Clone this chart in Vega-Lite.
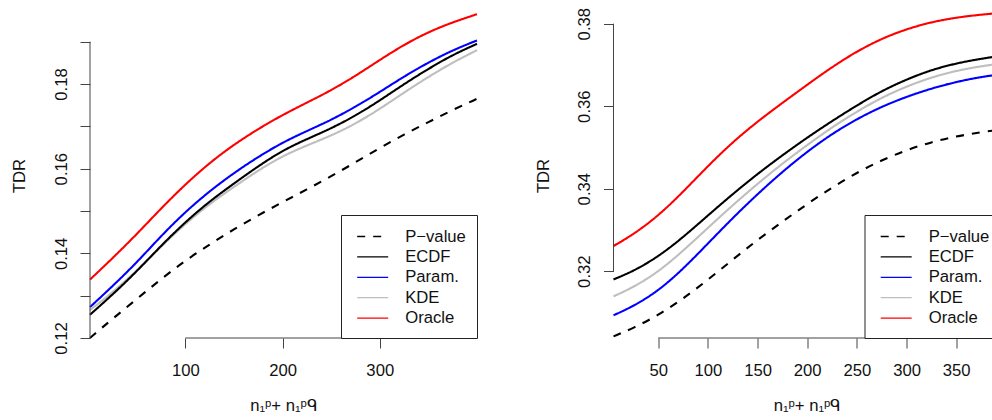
{
  "$schema": "https://vega.github.io/schema/vega-lite/v6.json",
  "background": "white",
  "autosize": {"type": "pad"},
  "padding": {"left": 11, "top": 7, "right": 0, "bottom": 0},
  "bounds": "flush",
  "spacing": 136.5,
  "config": {
    "font": "Liberation Sans",
    "view": {"stroke": null},
    "axis": {
      "domain": false, "grid": false, "tickSize": 10, "tickColor": "#444", "tickWidth": 1,
      "labelFont": "Liberation Sans", "labelFontSize": 16.67, "labelColor": "#111",
      "titleFont": "Liberation Sans", "titleFontSize": 16.67, "titleFontWeight": "normal", "titleColor": "#111",
      "labelFlush": false, "labelOverlap": false
    },
    "axisX": {"labelAngle": 0, "labelAlign": "center", "labelBaseline": "alphabetic", "labelPadding": 27.5,
      "titleX": 193.5, "titleY": 72.5, "titleAlign": "center", "titleBaseline": "alphabetic", "titleAngle": 0},
    "axisY": {"labelAngle": -90, "labelAlign": "center", "labelBaseline": "alphabetic", "labelPadding": 14,
      "titleX": -65.5, "titleY": 162.5, "titleAngle": -90, "titleAlign": "center", "titleBaseline": "alphabetic"},
    "legend": {
      "labelFont": "Liberation Sans", "labelFontSize": 16.67, "labelColor": "#111", "labelLimit": 200
    }
  },
  "datasets": {
    "L": [
      {"m": "Oracle", "n": 2, "t": 0.1338}, {"m": "Oracle", "n": 25, "t": 0.1388}, {"m": "Oracle", "n": 50, "t": 0.1445}, {"m": "Oracle", "n": 75, "t": 0.1506}, {"m": "Oracle", "n": 100, "t": 0.1563}, {"m": "Oracle", "n": 125, "t": 0.1614}, {"m": "Oracle", "n": 150, "t": 0.1657}, {"m": "Oracle", "n": 175, "t": 0.1694}, {"m": "Oracle", "n": 200, "t": 0.1727}, {"m": "Oracle", "n": 225, "t": 0.1756}, {"m": "Oracle", "n": 250, "t": 0.1785}, {"m": "Oracle", "n": 275, "t": 0.1819}, {"m": "Oracle", "n": 300, "t": 0.1857}, {"m": "Oracle", "n": 325, "t": 0.1893}, {"m": "Oracle", "n": 350, "t": 0.1923}, {"m": "Oracle", "n": 375, "t": 0.1946}, {"m": "Oracle", "n": 400, "t": 0.1965},
      {"m": "Param.", "n": 2, "t": 0.1273}, {"m": "Param.", "n": 25, "t": 0.1322}, {"m": "Param.", "n": 50, "t": 0.1378}, {"m": "Param.", "n": 75, "t": 0.1441}, {"m": "Param.", "n": 100, "t": 0.1498}, {"m": "Param.", "n": 125, "t": 0.1547}, {"m": "Param.", "n": 150, "t": 0.1590}, {"m": "Param.", "n": 175, "t": 0.1628}, {"m": "Param.", "n": 200, "t": 0.1662}, {"m": "Param.", "n": 225, "t": 0.1689}, {"m": "Param.", "n": 250, "t": 0.1715}, {"m": "Param.", "n": 275, "t": 0.1746}, {"m": "Param.", "n": 300, "t": 0.1781}, {"m": "Param.", "n": 325, "t": 0.1818}, {"m": "Param.", "n": 350, "t": 0.1851}, {"m": "Param.", "n": 375, "t": 0.1880}, {"m": "Param.", "n": 400, "t": 0.1903},
      {"m": "KDE", "n": 2, "t": 0.1266}, {"m": "KDE", "n": 25, "t": 0.1307}, {"m": "KDE", "n": 50, "t": 0.1359}, {"m": "KDE", "n": 75, "t": 0.1416}, {"m": "KDE", "n": 100, "t": 0.1470}, {"m": "KDE", "n": 125, "t": 0.1517}, {"m": "KDE", "n": 150, "t": 0.1557}, {"m": "KDE", "n": 175, "t": 0.1596}, {"m": "KDE", "n": 200, "t": 0.1630}, {"m": "KDE", "n": 225, "t": 0.1655}, {"m": "KDE", "n": 250, "t": 0.1678}, {"m": "KDE", "n": 275, "t": 0.1706}, {"m": "KDE", "n": 300, "t": 0.1741}, {"m": "KDE", "n": 325, "t": 0.1780}, {"m": "KDE", "n": 350, "t": 0.1817}, {"m": "KDE", "n": 375, "t": 0.1851}, {"m": "KDE", "n": 400, "t": 0.1880},
      {"m": "ECDF", "n": 2, "t": 0.1255}, {"m": "ECDF", "n": 25, "t": 0.1302}, {"m": "ECDF", "n": 50, "t": 0.1357}, {"m": "ECDF", "n": 75, "t": 0.1418}, {"m": "ECDF", "n": 100, "t": 0.1474}, {"m": "ECDF", "n": 125, "t": 0.1523}, {"m": "ECDF", "n": 150, "t": 0.1565}, {"m": "ECDF", "n": 175, "t": 0.1606}, {"m": "ECDF", "n": 200, "t": 0.1643}, {"m": "ECDF", "n": 225, "t": 0.1670}, {"m": "ECDF", "n": 250, "t": 0.1695}, {"m": "ECDF", "n": 275, "t": 0.1725}, {"m": "ECDF", "n": 300, "t": 0.1761}, {"m": "ECDF", "n": 325, "t": 0.1800}, {"m": "ECDF", "n": 350, "t": 0.1836}, {"m": "ECDF", "n": 375, "t": 0.1869}, {"m": "ECDF", "n": 400, "t": 0.1895},
      {"m": "P\u2212value", "n": 2, "t": 0.1200}, {"m": "P\u2212value", "n": 25, "t": 0.1245}, {"m": "P\u2212value", "n": 50, "t": 0.1292}, {"m": "P\u2212value", "n": 75, "t": 0.1339}, {"m": "P\u2212value", "n": 100, "t": 0.1383}, {"m": "P\u2212value", "n": 125, "t": 0.1421}, {"m": "P\u2212value", "n": 150, "t": 0.1457}, {"m": "P\u2212value", "n": 175, "t": 0.1490}, {"m": "P\u2212value", "n": 200, "t": 0.1521}, {"m": "P\u2212value", "n": 225, "t": 0.1551}, {"m": "P\u2212value", "n": 250, "t": 0.1582}, {"m": "P\u2212value", "n": 275, "t": 0.1615}, {"m": "P\u2212value", "n": 300, "t": 0.1649}, {"m": "P\u2212value", "n": 325, "t": 0.1681}, {"m": "P\u2212value", "n": 350, "t": 0.1710}, {"m": "P\u2212value", "n": 375, "t": 0.1739}, {"m": "P\u2212value", "n": 400, "t": 0.1765}
    ],
    "R": [
      {"m": "Oracle", "n": 5, "t": 0.3261}, {"m": "Oracle", "n": 25, "t": 0.3289}, {"m": "Oracle", "n": 50, "t": 0.3334}, {"m": "Oracle", "n": 75, "t": 0.3392}, {"m": "Oracle", "n": 100, "t": 0.3455}, {"m": "Oracle", "n": 125, "t": 0.3513}, {"m": "Oracle", "n": 150, "t": 0.3563}, {"m": "Oracle", "n": 175, "t": 0.3608}, {"m": "Oracle", "n": 200, "t": 0.3652}, {"m": "Oracle", "n": 225, "t": 0.3695}, {"m": "Oracle", "n": 250, "t": 0.3733}, {"m": "Oracle", "n": 275, "t": 0.3764}, {"m": "Oracle", "n": 300, "t": 0.3787}, {"m": "Oracle", "n": 325, "t": 0.3804}, {"m": "Oracle", "n": 350, "t": 0.3815}, {"m": "Oracle", "n": 375, "t": 0.3822}, {"m": "Oracle", "n": 394, "t": 0.3826},
      {"m": "Param.", "n": 5, "t": 0.3093}, {"m": "Param.", "n": 25, "t": 0.3115}, {"m": "Param.", "n": 50, "t": 0.3152}, {"m": "Param.", "n": 75, "t": 0.3205}, {"m": "Param.", "n": 100, "t": 0.3267}, {"m": "Param.", "n": 125, "t": 0.3329}, {"m": "Param.", "n": 150, "t": 0.3387}, {"m": "Param.", "n": 175, "t": 0.3441}, {"m": "Param.", "n": 200, "t": 0.3490}, {"m": "Param.", "n": 225, "t": 0.3533}, {"m": "Param.", "n": 250, "t": 0.3569}, {"m": "Param.", "n": 275, "t": 0.3599}, {"m": "Param.", "n": 300, "t": 0.3623}, {"m": "Param.", "n": 325, "t": 0.3643}, {"m": "Param.", "n": 350, "t": 0.3659}, {"m": "Param.", "n": 375, "t": 0.3671}, {"m": "Param.", "n": 394, "t": 0.3677},
      {"m": "KDE", "n": 5, "t": 0.3139}, {"m": "KDE", "n": 25, "t": 0.3161}, {"m": "KDE", "n": 50, "t": 0.3198}, {"m": "KDE", "n": 75, "t": 0.3249}, {"m": "KDE", "n": 100, "t": 0.3305}, {"m": "KDE", "n": 125, "t": 0.3360}, {"m": "KDE", "n": 150, "t": 0.3412}, {"m": "KDE", "n": 175, "t": 0.3461}, {"m": "KDE", "n": 200, "t": 0.3506}, {"m": "KDE", "n": 225, "t": 0.3549}, {"m": "KDE", "n": 250, "t": 0.3587}, {"m": "KDE", "n": 275, "t": 0.3621}, {"m": "KDE", "n": 300, "t": 0.3648}, {"m": "KDE", "n": 325, "t": 0.3670}, {"m": "KDE", "n": 350, "t": 0.3686}, {"m": "KDE", "n": 375, "t": 0.3697}, {"m": "KDE", "n": 394, "t": 0.3703},
      {"m": "ECDF", "n": 5, "t": 0.3180}, {"m": "ECDF", "n": 25, "t": 0.3200}, {"m": "ECDF", "n": 50, "t": 0.3235}, {"m": "ECDF", "n": 75, "t": 0.3282}, {"m": "ECDF", "n": 100, "t": 0.3335}, {"m": "ECDF", "n": 125, "t": 0.3387}, {"m": "ECDF", "n": 150, "t": 0.3436}, {"m": "ECDF", "n": 175, "t": 0.3481}, {"m": "ECDF", "n": 200, "t": 0.3524}, {"m": "ECDF", "n": 225, "t": 0.3564}, {"m": "ECDF", "n": 250, "t": 0.3602}, {"m": "ECDF", "n": 275, "t": 0.3637}, {"m": "ECDF", "n": 300, "t": 0.3665}, {"m": "ECDF", "n": 325, "t": 0.3688}, {"m": "ECDF", "n": 350, "t": 0.3704}, {"m": "ECDF", "n": 375, "t": 0.3715}, {"m": "ECDF", "n": 394, "t": 0.3722},
      {"m": "P\u2212value", "n": 5, "t": 0.3042}, {"m": "P\u2212value", "n": 25, "t": 0.3062}, {"m": "P\u2212value", "n": 50, "t": 0.3093}, {"m": "P\u2212value", "n": 75, "t": 0.3133}, {"m": "P\u2212value", "n": 100, "t": 0.3179}, {"m": "P\u2212value", "n": 125, "t": 0.3228}, {"m": "P\u2212value", "n": 150, "t": 0.3276}, {"m": "P\u2212value", "n": 175, "t": 0.3320}, {"m": "P\u2212value", "n": 200, "t": 0.3363}, {"m": "P\u2212value", "n": 225, "t": 0.3403}, {"m": "P\u2212value", "n": 250, "t": 0.3439}, {"m": "P\u2212value", "n": 275, "t": 0.3469}, {"m": "P\u2212value", "n": 300, "t": 0.3494}, {"m": "P\u2212value", "n": 325, "t": 0.3513}, {"m": "P\u2212value", "n": 350, "t": 0.3527}, {"m": "P\u2212value", "n": 375, "t": 0.3537}, {"m": "P\u2212value", "n": 394, "t": 0.3543}
    ]
  },
  "hconcat": [
    {
      "width": 387, "height": 325,
      "layer": [
        {
          "data": {"name": "L"},
          "mark": {"type": "line", "strokeWidth": 2.1, "interpolate": "basis"},
          "encoding": {
            "x": {"field": "n", "type": "quantitative", "scale": {"domain": [2, 400], "nice": false, "zero": false},
              "axis": {"values": [100, 200, 300], "title": "n\u2081\u1d56+ n\u2081\u1d56\u146b"}},
            "y": {"field": "t", "type": "quantitative", "scale": {"domain": [0.12, 0.19678], "nice": false, "zero": false},
              "axis": {"values": [0.12, 0.13, 0.14, 0.15, 0.16, 0.17, 0.18, 0.19], "format": ".2f",
                "labelExpr": "indexof(['0.12','0.14','0.16','0.18'], datum.label) >= 0 ? datum.label : ''", "title": "TDR"}},
            "color": {"field": "m", "type": "nominal",
              "scale": {"domain": ["P\u2212value", "ECDF", "Param.", "KDE", "Oracle"], "range": ["#000000", "#000000", "#0000ff", "#bebebe", "#ff0000"]},
              "legend": {"title": null, "orient": "bottom-right", "offset": 0, "padding": 11,
                "symbolType": "M-1.598,0H1.598", "symbolSize": 376.4, "symbolStrokeWidth": 1.3,
                "labelFontSize": 16.67, "labelOffset": 22, "rowPadding": 0.4, "symbolOffset": 10.2,
                "strokeColor": "#222", "fillColor": "white",
                "encode": {"symbols": {"update": {"strokeDash": {"signal": "datum.value === 'P\u2212value' ? [4, 4] : []"}}}}}},
            "strokeDash": {"field": "m", "type": "nominal",
              "scale": {"domain": ["P\u2212value", "ECDF", "Param.", "KDE", "Oracle"], "range": [[8, 8], [1, 0], [1, 0], [1, 0], [1, 0]]},
              "legend": null}
          }
        },
        {
          "data": {"values": [{}]},
          "mark": {"type": "rule", "color": "#444", "strokeWidth": 1},
          "encoding": {"x": {"datum": 2, "type": "quantitative"}, "y": {"datum": 0.12, "type": "quantitative"}, "y2": {"datum": 0.19}}
        },
        {
          "data": {"values": [{}]},
          "mark": {"type": "rule", "color": "#444", "strokeWidth": 1},
          "encoding": {"x": {"datum": 100, "type": "quantitative"}, "x2": {"datum": 300}, "y": {"datum": 0.12, "type": "quantitative"}}
        }
      ]
    },
    {
      "width": 387, "height": 325,
      "layer": [
        {
          "data": {"name": "R"},
          "mark": {"type": "line", "strokeWidth": 2.1, "interpolate": "basis"},
          "encoding": {
            "x": {"field": "n", "type": "quantitative", "scale": {"domain": [5, 394.6], "nice": false, "zero": false},
              "axis": {"values": [50, 100, 150, 200, 250, 300, 350], "title": "n\u2081\u1d56+ n\u2081\u1d56\u146b"}},
            "y": {"field": "t", "type": "quantitative", "scale": {"domain": [0.3038, 0.38259], "nice": false, "zero": false},
              "axis": {"values": [0.32, 0.34, 0.36, 0.38], "format": ".2f", "title": "TDR"}},
            "color": {"field": "m", "type": "nominal",
              "scale": {"domain": ["P\u2212value", "ECDF", "Param.", "KDE", "Oracle"], "range": ["#000000", "#000000", "#0000ff", "#bebebe", "#ff0000"]},
              "legend": {"title": null, "orient": "bottom-right", "offset": 0, "padding": 11,
                "symbolType": "M-1.598,0H1.598", "symbolSize": 376.4, "symbolStrokeWidth": 1.3,
                "labelFontSize": 16.67, "labelOffset": 22, "rowPadding": 0.4, "symbolOffset": 10.2,
                "strokeColor": "#222", "fillColor": "white",
                "encode": {"symbols": {"update": {"strokeDash": {"signal": "datum.value === 'P\u2212value' ? [4, 4] : []"}}}}}},
            "strokeDash": {"field": "m", "type": "nominal",
              "scale": {"domain": ["P\u2212value", "ECDF", "Param.", "KDE", "Oracle"], "range": [[8, 8], [1, 0], [1, 0], [1, 0], [1, 0]]},
              "legend": null}
          }
        },
        {
          "data": {"values": [{}]},
          "mark": {"type": "rule", "color": "#444", "strokeWidth": 1},
          "encoding": {"x": {"datum": 5, "type": "quantitative"}, "y": {"datum": 0.32, "type": "quantitative"}, "y2": {"datum": 0.38}}
        },
        {
          "data": {"values": [{}]},
          "mark": {"type": "rule", "color": "#444", "strokeWidth": 1},
          "encoding": {"x": {"datum": 50, "type": "quantitative"}, "x2": {"datum": 394.6}, "y": {"datum": 0.3038, "type": "quantitative"}}
        }
      ]
    }
  ],
  "resolve": {"scale": {"x": "independent", "y": "independent", "color": "independent", "strokeDash": "independent"}, "legend": {"color": "independent", "strokeDash": "independent"}}
}
